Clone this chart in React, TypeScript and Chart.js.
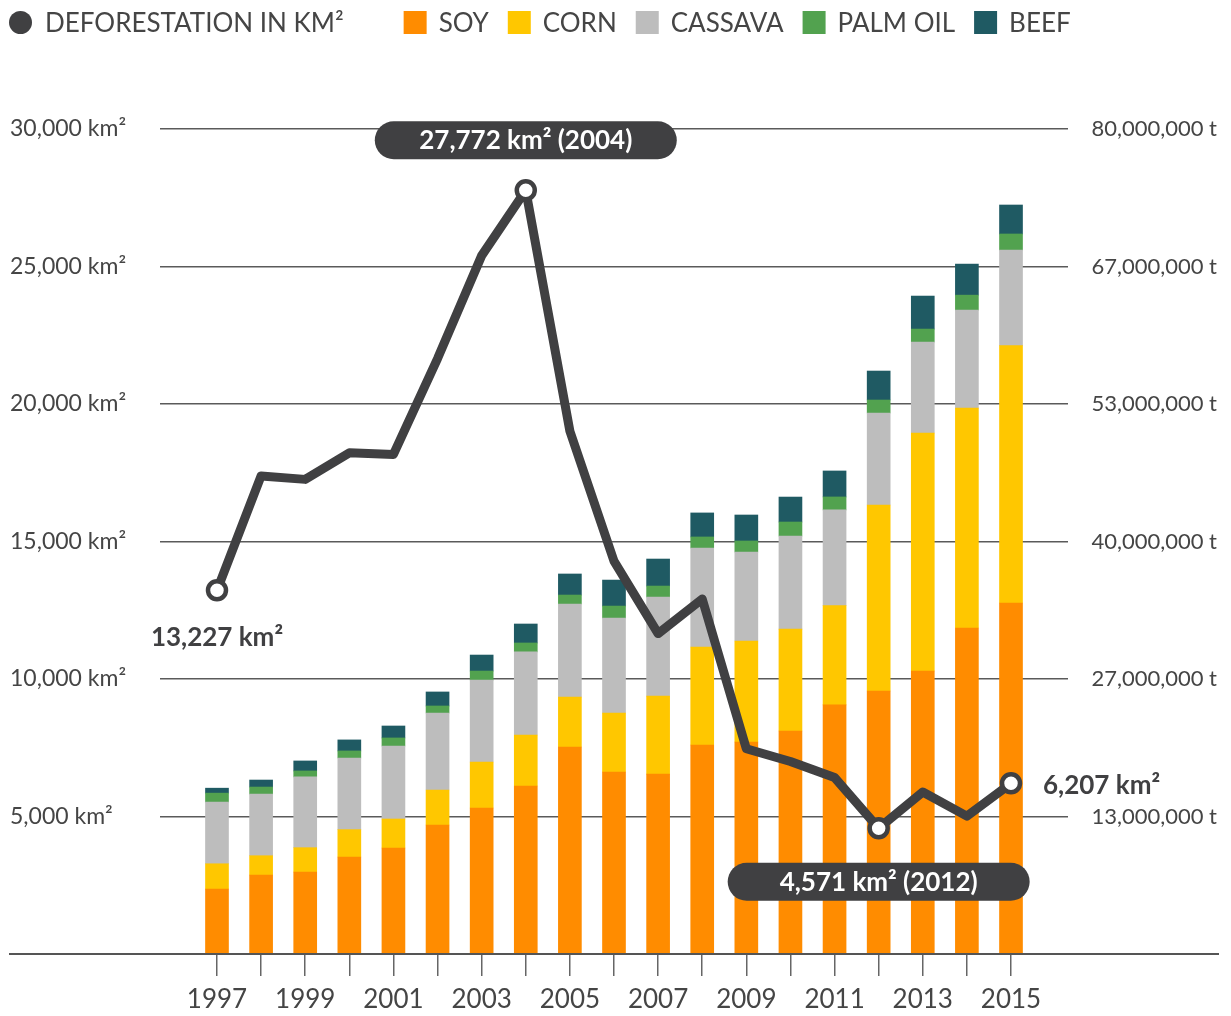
import React, { useEffect, useRef } from 'react';
import { Chart, registerables } from 'chart.js';

Chart.register(...registerables);

// ---------- DATA ----------
const years = [1997, 1998, 1999, 2000, 2001, 2002, 2003, 2004, 2005, 2006, 2007, 2008, 2009, 2010, 2011, 2012, 2013, 2014, 2015];

// Deforestation in km²
const deforestation = [13227, 17383, 17259, 18226, 18165, 21651, 25396, 27772, 19014, 14286, 11651, 12911, 7464, 7000, 6418, 4571, 5891, 5012, 6207];

// Production in millions of tonnes
const soyMt = [6.30, 7.66, 7.95, 9.41, 10.28, 12.51, 14.16, 16.29, 20.07, 17.65, 17.45, 20.27, 20.56, 21.62, 24.15, 25.50, 27.44, 31.61, 34.04];
const cornMt = [2.45, 1.87, 2.36, 2.65, 2.81, 3.39, 4.46, 4.95, 4.85, 5.72, 7.56, 9.50, 9.79, 9.89, 9.63, 18.04, 23.08, 21.33, 24.95];
const cassavaMt = [5.98, 5.98, 6.86, 6.95, 7.08, 7.47, 7.95, 8.05, 9.02, 9.21, 9.60, 9.60, 8.63, 9.02, 9.28, 8.92, 8.82, 9.50, 9.28];
const palmOilMt = [0.87, 0.68, 0.58, 0.68, 0.78, 0.68, 0.87, 0.87, 0.87, 1.16, 1.07, 1.07, 1.07, 1.36, 1.26, 1.26, 1.26, 1.45, 1.55];
const beefMt = [0.48, 0.68, 0.97, 1.07, 1.16, 1.36, 1.55, 1.84, 2.04, 2.52, 2.62, 2.33, 2.52, 2.42, 2.52, 2.81, 3.20, 3.01, 2.81];

const leftTickLabels = ['', '5,000 km²', '10,000 km²', '15,000 km²', '20,000 km²', '25,000 km²', '30,000 km²'];
const rightTickLabels = ['', '13,000,000 t', '27,000,000 t', '40,000,000 t', '53,000,000 t', '67,000,000 t', '80,000,000 t'];

const lineLabel = 'DEFORESTATION IN KM²';
const barLabels = ['SOY', 'CORN', 'CASSAVA', 'PALM OIL', 'BEEF'];

const markerYears = [1997, 2004, 2012, 2015];
const pillYears = [2004, 2012];
const plainLabelYears = [1997, 2015];

// ---------- STYLE ----------
const FONT = 'Lato, "Open Sans", sans-serif';
const LINE_COLOR = '#404042';
const TEXT_COLOR = '#454545';
const barColors = ['#FF8C00', '#FFC700', '#BDBDBD', '#52A24F', '#1F5A63'];
const barSeries = [soyMt, cornMt, cassavaMt, palmOilMt, beefMt];

const fmt = (v: number) => v.toLocaleString('en-US');

const legendPlugin = {
  id: 'topLegend',
  afterDraw(chart: any) {
    const ctx = chart.ctx as CanvasRenderingContext2D;
    ctx.save();
    ctx.font = `400 26px ${FONT}`;
    ctx.textBaseline = 'alphabetic';
    const cy = 22.5;
    const baseY = 32;
    let x = 9;
    ctx.fillStyle = LINE_COLOR;
    ctx.beginPath();
    ctx.arc(x + 11.5, cy, 11.5, 0, Math.PI * 2);
    ctx.fill();
    x += 23 + 13;
    ctx.fillStyle = TEXT_COLOR;
    ctx.fillText(lineLabel, x, baseY);
    x += ctx.measureText(lineLabel).width + 60;
    barLabels.forEach((lab, i) => {
      ctx.fillStyle = barColors[i];
      ctx.fillRect(x, cy - 11.5, 23, 23);
      x += 23 + 12;
      ctx.fillStyle = TEXT_COLOR;
      ctx.fillText(lab, x, baseY);
      x += ctx.measureText(lab).width + 19;
    });
    ctx.restore();
  },
};

const annotationPlugin = {
  id: 'annotations',
  afterDatasetsDraw(chart: any) {
    const ctx = chart.ctx as CanvasRenderingContext2D;
    const xs = chart.scales.x;
    const ys = chart.scales.y;
    ctx.save();
    // full-width baseline
    const by = ys.getPixelForValue(0);
    ctx.strokeStyle = '#555';
    ctx.lineWidth = 2;
    ctx.beginPath();
    ctx.moveTo(9, by);
    ctx.lineTo(1219, by);
    ctx.stroke();

    // pills
    const pillOffsets = [-50, 53.5];
    pillYears.forEach((yr, k) => {
      const i = years.indexOf(yr);
      const px = xs.getPixelForValue(yr);
      const py = ys.getPixelForValue(deforestation[i]);
      const cy = py + pillOffsets[k];
      const w = 302;
      const h = 38;
      ctx.fillStyle = LINE_COLOR;
      ctx.beginPath();
      (ctx as any).roundRect(px - w / 2, cy - h / 2, w, h, h / 2);
      ctx.fill();
      ctx.fillStyle = '#ffffff';
      ctx.font = `700 26px ${FONT}`;
      ctx.textAlign = 'center';
      ctx.textBaseline = 'alphabetic';
      ctx.fillText(`${fmt(deforestation[i])} km² (${yr})`, px, cy + 9);
    });

    // plain labels
    ctx.fillStyle = LINE_COLOR;
    ctx.font = `700 26px ${FONT}`;
    ctx.textBaseline = 'alphabetic';
    plainLabelYears.forEach((yr, k) => {
      const i = years.indexOf(yr);
      const px = xs.getPixelForValue(yr);
      const py = ys.getPixelForValue(deforestation[i]);
      const text = `${fmt(deforestation[i])} km²`;
      if (k === 0) {
        ctx.textAlign = 'center';
        ctx.fillText(text, px, py + 56);
      } else {
        ctx.textAlign = 'left';
        ctx.fillText(text, px + 32, py + 11);
      }
    });
    ctx.restore();
  },
};

export default function App() {
  const ref = useRef<HTMLCanvasElement | null>(null);

  useEffect(() => {
    document.body.style.margin = '0';
    const canvas = ref.current;
    if (!canvas) return;

    const lineData = years.map((yr, i) => ({ x: yr, y: deforestation[i] }));
    const barDatasets = barSeries.map((series, s) => ({
      type: 'bar' as const,
      label: barLabels[s],
      data: years.map((yr, i) => ({ x: yr, y: series[i] * 1e6 })),
      backgroundColor: barColors[s],
      borderWidth: 0,
      barThickness: 23,
      yAxisID: 'y1',
      xAxisID: 'x',
      stack: 'crops',
      order: 1,
    }));

    const chart = new Chart(canvas, {
      type: 'bar',
      data: {
        datasets: [
          {
            type: 'line' as const,
            label: lineLabel,
            data: lineData,
            borderColor: LINE_COLOR,
            borderWidth: 9,
            borderJoinStyle: 'round',
            borderCapStyle: 'round',
            tension: 0,
            pointRadius: years.map((yr) => (markerYears.includes(yr) ? 9 : 0)),
            pointBorderWidth: 4.5,
            pointBackgroundColor: '#ffffff',
            pointBorderColor: LINE_COLOR,
            yAxisID: 'y',
            xAxisID: 'x',
            order: 0,
            clip: false as any,
          } as any,
          ...barDatasets,
        ],
      },
      options: {
        responsive: false,
        animation: false,
        layout: { padding: { top: 129, left: 10, right: 14, bottom: 0 } },
        plugins: {
          legend: { display: false },
          tooltip: { enabled: false },
        },
        scales: {
          x: {
            type: 'linear',
            position: 'bottom',
            min: 1995.708,
            max: 2016.292,
            offset: false,
            stacked: true,
            border: { display: false },
            grid: {
              offset: false,
              drawOnChartArea: false,
              drawTicks: true,
              tickLength: 22,
              color: '#666',
              lineWidth: 1.5,
            },
            afterBuildTicks: (s: any) => {
              s.ticks = years.map((v) => ({ value: v }));
            },
            afterFit: (s: any) => {
              s.height = 62;
            },
            ticks: {
              autoSkip: false,
              maxRotation: 0,
              padding: 8,
              color: TEXT_COLOR,
              font: { family: FONT, size: 26 },
              callback: (v: any) => (Number(v) % 2 === 1 ? String(v) : ''),
            },
          },
          y: {
            type: 'linear',
            position: 'left',
            min: 0,
            max: 30000,
            border: { display: false },
            grid: { color: '#5a5a5a', lineWidth: 1.5, drawTicks: false },
            afterFit: (s: any) => {
              s.width = 150;
            },
            ticks: {
              stepSize: 5000,
              crossAlign: 'far',
              padding: 0,
              color: TEXT_COLOR,
              font: { family: FONT, size: 23 },
              callback: (_v: any, idx: number) => leftTickLabels[idx] ?? '',
            },
          },
          y1: {
            type: 'linear',
            position: 'right',
            min: 0,
            max: 80000000,
            stacked: true,
            border: { display: false },
            grid: { drawOnChartArea: false, drawTicks: false },
            afterFit: (s: any) => {
              s.width = 149;
            },
            ticks: {
              count: 7,
              crossAlign: 'far',
              padding: 0,
              color: TEXT_COLOR,
              font: { family: FONT, size: 22 },
              callback: (_v: any, idx: number) => rightTickLabels[idx] ?? '',
            },
          },
        },
      } as any,
      plugins: [legendPlugin, annotationPlugin],
    });

    return () => chart.destroy();
  }, []);

  return (
    <canvas
      ref={ref}
      width={1231}
      height={1016}
      style={{ display: 'block', width: 1231, height: 1016 }}
    />
  );
}
